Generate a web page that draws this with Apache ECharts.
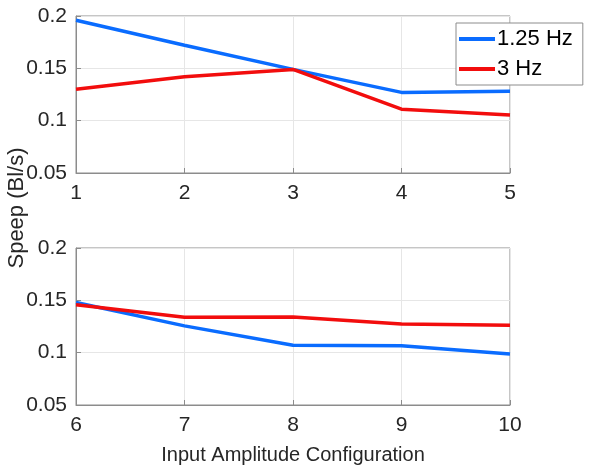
<!DOCTYPE html>
<html>
<head>
<meta charset="utf-8">
<script src="https://cdn.jsdelivr.net/npm/echarts@6/dist/echarts.min.js"></script>
<style>
  html, body { margin: 0; padding: 0; background: #fff; }
  #chart { width: 607px; height: 472px; }
</style>
</head>
<body>
<div id="chart"></div>
<script>
var xTop = [1, 2, 3, 4, 5];
var xBottom = [6, 7, 8, 9, 10];
var blueTop = [0.196, 0.172, 0.149, 0.127, 0.128];
var redTop = [0.130, 0.142, 0.149, 0.111, 0.1055];
var blueBottom = [0.148, 0.1256, 0.107, 0.1067, 0.0988];
var redBottom = [0.1457, 0.1339, 0.134, 0.1275, 0.1262];
var seriesNames = ['1.25 Hz', '3 Hz'];
var colors = ['#0a6cff', '#f20d0d'];

function pairs(xs, ys) {
	return xs.map(function (x, i) { return [x, ys[i]]; });
}

var font = 'Helvetica, "Liberation Sans", Arial, sans-serif';
var gridLine = { show: true, lineStyle: { color: '#e6e6e6', width: 1 } };
var axisLine = { show: true, lineStyle: { color: '#8c8c8c', width: 1 } };
var label = { color: '#262626', fontSize: 21, fontFamily: font };

function xAxis(idx, min, max, extra) {
	return Object.assign({
		type: 'value', gridIndex: idx, min: min, max: max, interval: 1,
		axisLine: axisLine,
		axisTick: { show: true, inside: true, length: 5, lineStyle: { color: '#8c8c8c' } },
		axisLabel: Object.assign({ margin: 10 }, label),
		splitLine: gridLine
	}, extra || {});
}
function yAxis(idx) {
	return {
		type: 'value', gridIndex: idx, min: 0.05, max: 0.2, interval: 0.05,
		axisLine: axisLine,
		axisTick: { show: true, inside: true, length: 5, lineStyle: { color: '#8c8c8c' } },
		axisLabel: Object.assign({ margin: 9 }, label),
		splitLine: gridLine
	};
}
function line(name, color, xi, data) {
	return {
		name: name, type: 'line', xAxisIndex: xi, yAxisIndex: xi,
		data: data, showSymbol: false, symbol: 'none',
		lineStyle: { color: color, width: 3.5 }, itemStyle: { color: color },
		animation: false
	};
}

var chart = echarts.init(document.getElementById('chart'));
chart.setOption({
	backgroundColor: '#fff',
	animation: false,
	grid: [
		{ left: 76, right: 97, top: 16, height: 157, show: true, borderColor: '#8c8c8c', borderWidth: 1 },
		{ left: 76, right: 97, top: 248, height: 157, show: true, borderColor: '#8c8c8c', borderWidth: 1 }
	],
	legend: {
		data: seriesNames,
		orient: 'vertical',
		left: 456, top: 23,
		width: 127,
		backgroundColor: '#fff',
		borderColor: '#8c8c8c', borderWidth: 1,
		padding: [4, 10, 4, 3],
		itemGap: 6,
		itemWidth: 36, itemHeight: 4,
		icon: 'rect',
		textStyle: { color: '#000', fontSize: 22, fontFamily: font, padding: [0, 0, 0, -3], lineHeight: 24 }
	},
	xAxis: [
		xAxis(0, 1, 5),
		xAxis(1, 6, 10, {
			name: 'Input Amplitude Configuration', nameLocation: 'middle', nameGap: 40,
			nameTextStyle: { color: '#262626', fontSize: 20, fontFamily: font }
		})
	],
	yAxis: [yAxis(0), yAxis(1)],
	graphic: [{
		type: 'text', x: 6, y: 208, rotation: Math.PI / 2,
		style: {
			text: 'Speep (Bl/s)', fill: '#262626', fontSize: 22, fontFamily: font,
			textAlign: 'center', textVerticalAlign: 'top'
		}
	}],
	series: [
		line(seriesNames[0], colors[0], 0, pairs(xTop, blueTop)),
		line(seriesNames[1], colors[1], 0, pairs(xTop, redTop)),
		line(seriesNames[0], colors[0], 1, pairs(xBottom, blueBottom)),
		line(seriesNames[1], colors[1], 1, pairs(xBottom, redBottom))
	]
});
</script>
</body>
</html>
